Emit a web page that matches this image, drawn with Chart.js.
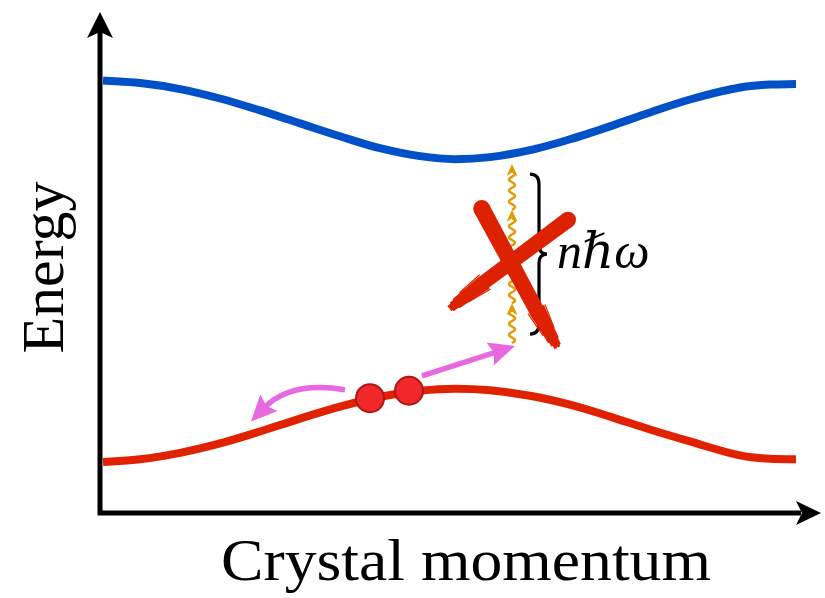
<!DOCTYPE html>
<html>
<head>
<meta charset="utf-8">
<script src="https://cdn.jsdelivr.net/npm/chart.js@4.4.1/dist/chart.umd.min.js"></script>
<style>
  html, body { margin: 0; padding: 0; background: #ffffff; }
  canvas { display: block; }
</style>
</head>
<body>
<canvas id="bands" width="825" height="598"></canvas>
<script>
// Band sketch: crystal momentum k and energy E in arbitrary units
const momentum       = [3, 40, 80, 120, 160, 200, 240, 280, 320, 355, 390, 430, 470, 510, 550, 590, 640, 670, 696];
const conductionBand = [435, 432.5, 426.5, 417, 405, 392, 379, 367, 359, 356, 358, 365, 376, 389, 403, 416, 428, 431, 431.5];
const valenceBand    = [51.3, 54, 60.5, 70, 82, 95, 107, 117, 123, 125, 123.5, 118, 109, 97, 84, 72, 58, 54.5, 54];

// two carriers sitting near the top of the lower band
const electronK = [270, 309];
const electronE = [115.5, 123];

// photon ladder n·ħω between the bands (k position and rung energies)
const photonK = 412;
const photonRungs = [171, 211, 258, 305, 351];

// brace and its label
const braceK = 428;
const braceSpan = [180, 341];
const labelText = 'n\u210F\u03C9';
const labelPos = [457, 246];

// motion arrows of the carriers: [k, E] points
const leftArrow  = { tail: [245, 124], bend: [190, 133], tip: [151, 92] };
const rightArrow = { tail: [322, 138], tip: [415, 168] };

// the crossed-out mark: two brush strokes, [start, end]
const strokeA = [[381.7, 306.3], [457, 166]];
const strokeB = [[468, 295], [349, 206]];

// axis extents
const axisTipK = 721;
const axisTipE = 504;
const xTitle = 'Crystal momentum';
const yTitle = 'Energy';

const pts = (xs, ys) => xs.map((x, i) => ({ x, y: ys[i] }));

function stealth(ctx, tx, ty, ang, len, half, notch) {
  const ux = Math.cos(ang), uy = Math.sin(ang);
  const nx = -uy, ny = ux;
  ctx.beginPath();
  ctx.moveTo(tx, ty);
  ctx.lineTo(tx - ux * len + nx * half, ty - uy * len + ny * half);
  ctx.lineTo(tx - ux * (len - notch), ty - uy * (len - notch));
  ctx.lineTo(tx - ux * len - nx * half, ty - uy * len - ny * half);
  ctx.closePath();
  ctx.fill();
}

const bristles = [
  { o: -0.66, l: 0.5, w: 1.2 },
  { o: -0.52, l: 0.78, w: 1.8 },
  { o: -0.38, l: 0.95, w: 2.4 },
  { o: -0.22, l: 1.0, w: 3 },
  { o: -0.05, l: 0.96, w: 3.5 },
  { o: 0.12, l: 1.0, w: 3 },
  { o: 0.28, l: 0.9, w: 2.4 },
  { o: 0.44, l: 0.78, w: 1.8 },
  { o: 0.6, l: 0.55, w: 1.2 }
];

function brush(ctx, p, q, w, solid) {
  const dx = q.x - p.x, dy = q.y - p.y, L = Math.hypot(dx, dy);
  const ux = dx / L, uy = dy / L, nx = -uy, ny = ux;
  const s = { x: p.x + ux * L * solid, y: p.y + uy * L * solid };
  const ws = w * 0.9;
  const mf = solid + (1 - solid) * 0.6;
  const m = { x: p.x + ux * L * mf, y: p.y + uy * L * mf };
  ctx.beginPath();
  ctx.arc(p.x, p.y, w / 2, 0, Math.PI * 2);
  ctx.fill();
  ctx.beginPath();
  ctx.moveTo(p.x + nx * w / 2, p.y + ny * w / 2);
  ctx.lineTo(s.x + nx * ws / 2, s.y + ny * ws / 2);
  ctx.lineTo(m.x + nx * ws * 0.28, m.y + ny * ws * 0.28);
  ctx.lineTo(q.x, q.y);
  ctx.lineTo(m.x - nx * ws * 0.28, m.y - ny * ws * 0.28);
  ctx.lineTo(s.x - nx * ws / 2, s.y - ny * ws / 2);
  ctx.lineTo(p.x - nx * w / 2, p.y - ny * w / 2);
  ctx.closePath();
  ctx.fill();
  const rest = L * (1 - solid);
  ctx.lineCap = 'butt';
  bristles.forEach(b => {
    ctx.lineWidth = b.w;
    ctx.beginPath();
    ctx.moveTo(s.x + nx * b.o * ws - ux * 6, s.y + ny * b.o * ws - uy * 6);
    ctx.lineTo(s.x + ux * rest * b.l + nx * b.o * ws * 0.7, s.y + uy * rest * b.l + ny * b.o * ws * 0.7);
    ctx.stroke();
  });
}

const sketch = {
  id: 'sketch',
  beforeDatasetsDraw(chart) {
    const { ctx } = chart;
    const X = v => chart.scales.x.getPixelForValue(v);
    const Y = v => chart.scales.y.getPixelForValue(v);
    ctx.save();
    ctx.strokeStyle = '#000';
    ctx.fillStyle = '#000';
    ctx.lineWidth = 5;
    ctx.lineCap = 'butt';
    ctx.beginPath();
    ctx.moveTo(X(0), Y(0) + 2.5);
    ctx.lineTo(X(0), Y(axisTipE) + 20);
    ctx.moveTo(X(0) - 2.5, Y(0));
    ctx.lineTo(X(axisTipK) - 20, Y(0));
    ctx.stroke();
    stealth(ctx, X(0), Y(axisTipE), -Math.PI / 2, 26, 13, 6);
    stealth(ctx, X(axisTipK), Y(0), 0, 25, 12, 6);
    ctx.restore();
  },
  afterDatasetsDraw(chart) {
    const { ctx } = chart;
    const X = v => chart.scales.x.getPixelForValue(v);
    const Y = v => chart.scales.y.getPixelForValue(v);
    ctx.save();

    // photon ladder
    ctx.strokeStyle = '#e19a00';
    ctx.fillStyle = '#e19a00';
    ctx.lineWidth = 2.4;
    const px = X(photonK);
    for (let i = 0; i < photonRungs.length - 1; i++) {
      const y0 = Y(photonRungs[i]), y1 = Y(photonRungs[i + 1]);
      const yEnd = y1 + 8;
      ctx.beginPath();
      for (let y = y0; y >= yEnd; y -= 0.5) {
        const x = px + 3 * Math.sin(2 * Math.PI * (y0 - y) / 11);
        if (y === y0) ctx.moveTo(x, y); else ctx.lineTo(x, y);
      }
      ctx.stroke();
      stealth(ctx, px, y1, -Math.PI / 2, 12, 5.5, 3.5);
    }

    // brace
    ctx.strokeStyle = '#000';
    ctx.lineWidth = 3.2;
    const bl = X(braceK) + 2, bm = X(braceK) + 11, bt = X(braceK) + 19;
    const yTop = Y(braceSpan[1]), yBot = Y(braceSpan[0]), yMid = (yTop + yBot) / 2;
    ctx.beginPath();
    ctx.moveTo(bl, yTop);
    ctx.quadraticCurveTo(bm, yTop, bm, yTop + 10);
    ctx.lineTo(bm, yMid - 9);
    ctx.quadraticCurveTo(bm, yMid, bt, yMid);
    ctx.quadraticCurveTo(bm, yMid, bm, yMid + 9);
    ctx.lineTo(bm, yBot - 10);
    ctx.quadraticCurveTo(bm, yBot, bl, yBot);
    ctx.stroke();

    // label
    ctx.fillStyle = '#000';
    ctx.font = 'italic 50px "Liberation Serif", "DejaVu Serif", serif';
    ctx.textBaseline = 'alphabetic';
    ctx.textAlign = 'left';
    ctx.fillText(labelText, X(labelPos[0]), Y(labelPos[1]));

    // crossed-out mark
    ctx.fillStyle = '#dc2200';
    ctx.strokeStyle = '#dc2200';
    brush(ctx, { x: X(strokeA[0][0]), y: Y(strokeA[0][1]) }, { x: X(strokeA[1][0]), y: Y(strokeA[1][1]) }, 17, 0.76);
    brush(ctx, { x: X(strokeB[0][0]), y: Y(strokeB[0][1]) }, { x: X(strokeB[1][0]), y: Y(strokeB[1][1]) }, 16, 0.74);

    // carrier motion arrows
    ctx.strokeStyle = '#e868e0';
    ctx.fillStyle = '#e868e0';
    ctx.lineWidth = 5.5;
    ctx.lineCap = 'butt';
    {
      const t = { x: X(leftArrow.tail[0]), y: Y(leftArrow.tail[1]) };
      const c = { x: X(leftArrow.bend[0]), y: Y(leftArrow.bend[1]) };
      const h = { x: X(leftArrow.tip[0]), y: Y(leftArrow.tip[1]) };
      const ang = Math.atan2(h.y - c.y, h.x - c.x);
      const e = { x: h.x - Math.cos(ang) * 18, y: h.y - Math.sin(ang) * 18 };
      ctx.beginPath();
      ctx.moveTo(t.x, t.y);
      ctx.quadraticCurveTo(c.x, c.y, e.x, e.y);
      ctx.stroke();
      stealth(ctx, h.x, h.y, ang, 26, 12, 4);
    }
    {
      const t = { x: X(rightArrow.tail[0]), y: Y(rightArrow.tail[1]) };
      const h = { x: X(rightArrow.tip[0]), y: Y(rightArrow.tip[1]) };
      const ang = Math.atan2(h.y - t.y, h.x - t.x);
      const e = { x: h.x - Math.cos(ang) * 18, y: h.y - Math.sin(ang) * 18 };
      ctx.beginPath();
      ctx.moveTo(t.x, t.y);
      ctx.lineTo(e.x, e.y);
      ctx.stroke();
      stealth(ctx, h.x, h.y, ang, 26, 12, 4);
    }

    // axis titles
    ctx.fillStyle = '#000';
    ctx.font = '60px "Liberation Serif", serif';
    ctx.textAlign = 'center';
    ctx.textBaseline = 'alphabetic';
    const w = ctx.measureText(xTitle).width;
    ctx.save();
    ctx.translate(X(366), Y(0) + 67);
    ctx.scale(490 / w, 1);
    ctx.fillText(xTitle, 0, 0);
    ctx.restore();
    ctx.save();
    ctx.translate(X(0) - 37, Y(247));
    ctx.rotate(-Math.PI / 2);
    ctx.fillText(yTitle, 0, 0);
    ctx.restore();

    ctx.restore();
  }
};

new Chart(document.getElementById('bands'), {
  type: 'line',
  data: {
    datasets: [
      {
        label: 'electrons',
        data: pts(electronK, electronE),
        showLine: false,
        pointRadius: 14,
        pointBackgroundColor: '#f0282a',
        pointBorderColor: '#b01414',
        pointBorderWidth: 2,
        order: 0
      },
      {
        label: 'conduction band',
        data: pts(momentum, conductionBand),
        borderColor: '#0050c8',
        borderWidth: 8,
        pointRadius: 0,
        cubicInterpolationMode: 'monotone',
        order: 1
      },
      {
        label: 'valence band',
        data: pts(momentum, valenceBand),
        borderColor: '#e02200',
        borderWidth: 8,
        pointRadius: 0,
        cubicInterpolationMode: 'monotone',
        order: 1
      }
    ]
  },
  options: {
    responsive: false,
    animation: false,
    events: [],
    layout: { padding: { left: 100, right: 25, top: 13, bottom: 85 } },
    plugins: { legend: { display: false }, tooltip: { enabled: false } },
    scales: {
      x: { type: 'linear', min: 0, max: 700, display: false },
      y: { type: 'linear', min: 0, max: 500, display: false }
    }
  },
  plugins: [sketch]
});
</script>
</body>
</html>
